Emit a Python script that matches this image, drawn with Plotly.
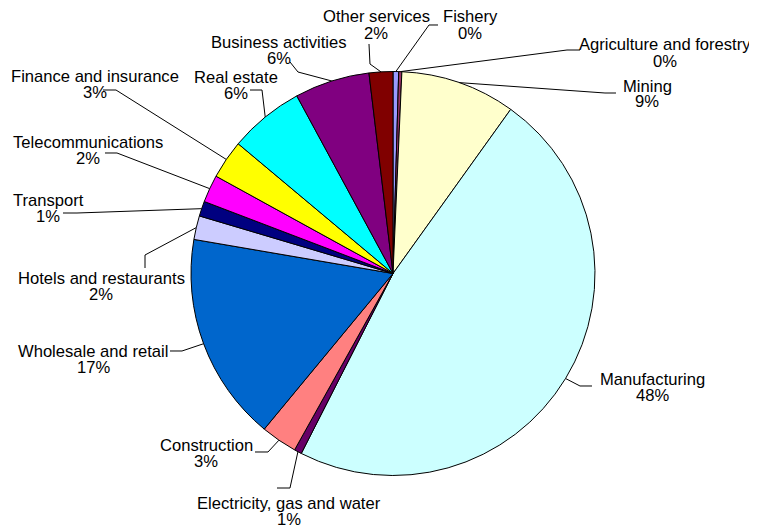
import math
import plotly.graph_objects as go

# sectors, in the order they go round the pie (clockwise from 12 o'clock)
sectors = ["Fishery", "Agriculture and forestry", "Mining", "Manufacturing",
           "Electricity, gas and water", "Construction", "Wholesale and retail",
           "Hotels and restaurants", "Transport", "Telecommunications",
           "Finance and insurance", "Real estate", "Business activities",
           "Other services"]
shares = [0.45, 0.25, 9.2, 47.6, 0.6, 2.9, 16.7, 1.9, 1.2, 2.2, 3.1, 6.0, 6.0, 1.9]
colors = ["#9999FF", "#993366", "#FFFFCC", "#CCFFFF", "#660066", "#FF8080",
          "#0066CC", "#CCCCFF", "#000080", "#FF00FF", "#FFFF00", "#00FFFF",
          "#800080", "#800000"]

W, H = 757, 526
OFF = 8  # page body margin, figure sits 8px right/down
CX, CY, R = 393, 273.5, 202

# label centre (name line), leader start and elbow, all in page pixels
label_pos = {
    "Fishery": (470, 17, (438, 25), (429, 25)),
    "Agriculture and forestry": (665, 45, (580, 50), (567, 50)),
    "Mining": (647, 86, (616, 93), (605, 93)),
    "Manufacturing": (652, 379, (592, 386), (580, 386)),
    "Electricity, gas and water": (289, 503, (277, 488), (290, 488)),
    "Construction": (206, 445, (255, 452), (268, 452)),
    "Wholesale and retail": (93, 351, (170, 351), (182, 351)),
    "Hotels and restaurants": (101, 278, (145, 268), (145, 255)),
    "Transport": (48, 200, (63, 213), (77, 213)),
    "Telecommunications": (88, 143, (105, 153), (117, 153)),
    "Finance and insurance": (95, 76, (103, 90), (116, 90)),
    "Real estate": (236, 77, (250, 90), (262, 90)),
    "Business activities": (279, 42, (290, 62), (298, 72)),
    "Other services": (376, 17, (369, 44), (370, 64)),
}


def px(x, y):
    return (x - OFF) / W, 1 - (y - OFF) / H


x0, y1 = px(CX - R, CY - R)
x1, y0 = px(CX + R, CY + R)
fig = go.Figure(go.Pie(
    labels=sectors, values=shares, sort=False, direction="clockwise", rotation=0,
    marker=dict(colors=colors, line=dict(color="black", width=1)),
    textinfo="none", hoverinfo="label+percent", showlegend=False,
    domain=dict(x=[x0, x1], y=[y0, y1]),
))

total = sum(shares)
cum = 0
annotations = []
shapes = []
for name, v in zip(sectors, shares):
    mid = (cum + v / 2) / total * 2 * math.pi
    cum += v
    ex, ey = CX + R * math.sin(mid), CY - R * math.cos(mid)
    lx, ly, start, elbow = label_pos[name]
    pct = "%d%%" % round(v / total * 100)
    for txt, yy in ((name, ly), (pct, ly + 16)):
        ax, ay = px(lx, yy)
        annotations.append(dict(x=ax, y=ay, xref="paper", yref="paper", text=txt,
                                showarrow=False, xanchor="center", yanchor="middle"))
    pts = [px(*start), px(*elbow), px(ex, ey)]
    path = "M %f,%f L %f,%f L %f,%f" % (pts[0] + pts[1] + pts[2])
    shapes.append(dict(type="path", path=path, xref="paper", yref="paper",
                       line=dict(color="black", width=1)))

fig.update_layout(
    width=W, height=H,
    margin=dict(l=0, r=0, t=0, b=0),
    paper_bgcolor="white", plot_bgcolor="white",
    font=dict(family="Liberation Sans, Arial, sans-serif", size=16.6, color="black"),
    annotations=annotations, shapes=shapes,
)

fig.write_html("out.html")
